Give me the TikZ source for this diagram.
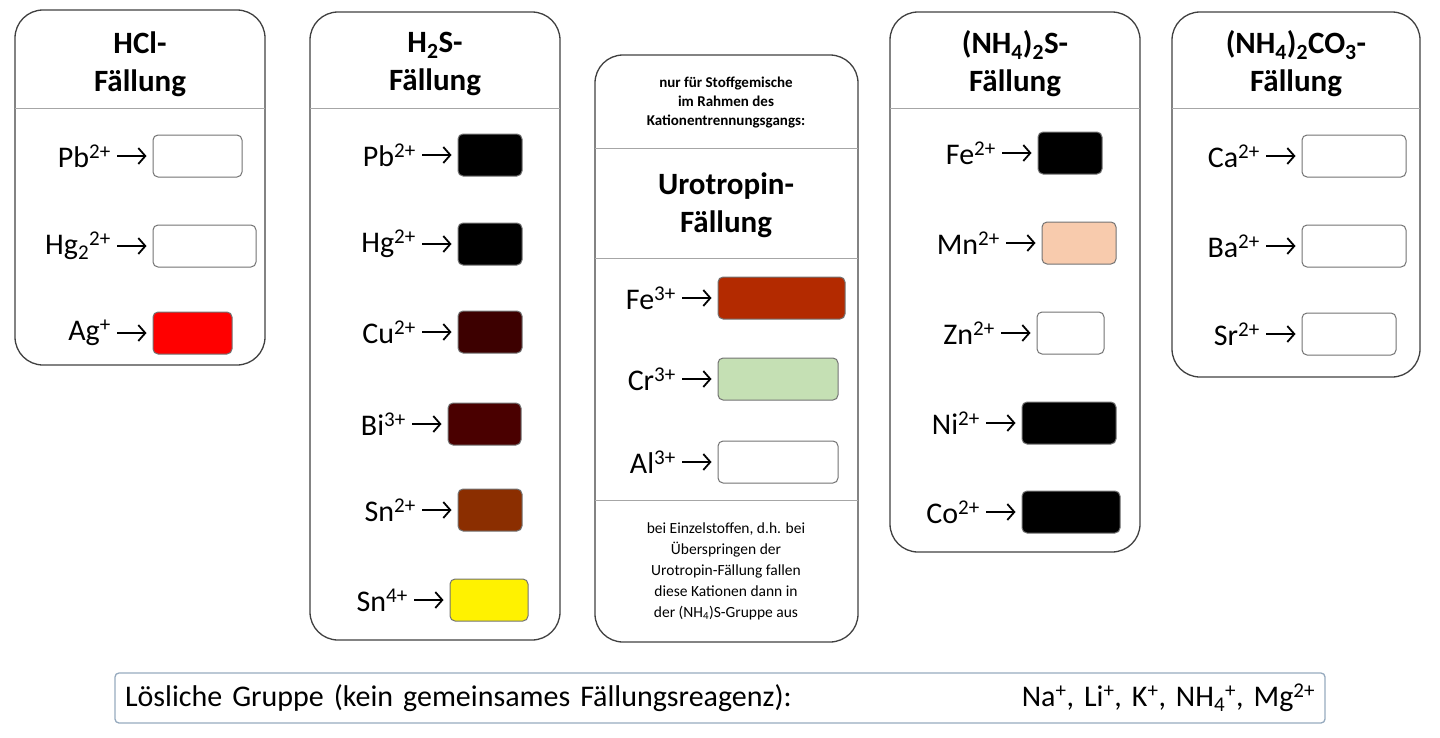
\documentclass[tikz,border=0pt]{standalone}
\usepackage{fontspec}
\setmainfont{Carlito}
\usetikzlibrary{arrows.meta}
\begin{document}
\begin{tikzpicture}[x=1pt,y=-1pt,
 panel/.style={draw=black!75,line width=1.3pt,rounded corners=28pt},
 sw/.style={draw=black!55,line width=1pt,rounded corners=5pt,minimum height=42pt,inner sep=0},
 ion/.style={anchor=east,font=\fontsize{30}{34}\selectfont,inner sep=0},
 ttl/.style={font=\bfseries\fontsize{31}{38}\selectfont,align=center},
 arr/.style={-{Straight Barb[length=7pt,width=16pt]},line width=1.8pt},
 sep/.style={draw=black!35,line width=1pt}]
\useasboundingbox (0,0) rectangle (1440,737);
% panels
\draw[panel] (15,10) rectangle (265,365); \draw[sep] (15,108)--(265,108);
\draw[panel] (310,12) rectangle (560,640); \draw[sep] (310,108)--(560,108);
\draw[panel] (595,55) rectangle (858,642); \draw[sep] (595,148)--(858,148);
\draw[sep] (595,258)--(858,258); \draw[sep] (595,500)--(858,500);
\draw[panel] (890,12) rectangle (1140,552); \draw[sep] (890,108)--(1140,108);
\draw[panel] (1172,12) rectangle (1420,377); \draw[sep] (1172,108)--(1420,108);
% titles
\node[ttl] (t1) at (140,64) {HCl-\\Fällung};
\node[ttl] (t2) at (435,64) {H\textsubscript{2}S-\\Fällung};
\node[ttl] (t4) at (1015,64) {(NH\textsubscript{4})\textsubscript{2}S-\\Fällung};
\node[ttl] (t5) at (1296,64) {(NH\textsubscript{4})\textsubscript{2}CO\textsubscript{3}-\\Fällung};
\node[font=\bfseries\fontsize{15}{19}\selectfont,align=center] (t3a) at (726,102) {nur für Stoffgemische\\im Rahmen des\\Kationentrennungsgangs:};
\node[ttl] (t3) at (726,205) {Urotropin-\\Fällung};
\node[font=\fontsize{15.5}{21}\selectfont,align=center] (t3b) at (726,571) {bei Einzelstoffen, d.h. bei\\Überspringen der\\Urotropin-Fällung fallen\\diese Kationen dann in\\der (NH\textsubscript{4})S-Gruppe aus};
\foreach \n/\y/\xa/\xb/\c/\l in {
 a1/156/153/242/white/{Pb\textsuperscript{2+}},
 a2/246/153/256/white/{Hg\textsubscript{2}\textsuperscript{2+}},
 a3/333/153/232/red/{Ag\textsuperscript{+}},
 b1/155/458/522/black/{Pb\textsuperscript{2+}},
 b2/244/458/522/black/{Hg\textsuperscript{2+}},
 b3/332/458/522/{rgb,255:red,61;green,0;blue,0}/{Cu\textsuperscript{2+}},
 b4/424/448/521/{rgb,255:red,74;green,0;blue,0}/{Bi\textsuperscript{3+}},
 b5/510/458/522/{rgb,255:red,139;green,46;blue,0}/{Sn\textsuperscript{2+}},
 b6/600/450/528/yellow/{Sn\textsuperscript{4+}},
 c1/298/718/845/{rgb,255:red,179;green,42;blue,0}/{Fe\textsuperscript{3+}},
 c2/379/718/838/{rgb,255:red,197;green,224;blue,180}/{Cr\textsuperscript{3+}},
 c3/462/718/838/white/{Al\textsuperscript{3+}},
 d1/153/1038/1102/black/{Fe\textsuperscript{2+}},
 d2/243/1042/1116/{rgb,255:red,248;green,203;blue,173}/{Mn\textsuperscript{2+}},
 d3/333/1037/1104/white/{Zn\textsuperscript{2+}},
 d4/423/1022/1116/black/{Ni\textsuperscript{2+}},
 d5/512/1022/1120/black/{Co\textsuperscript{2+}},
 e1/156/1302/1406/white/{Ca\textsuperscript{2+}},
 e2/246/1302/1406/white/{Ba\textsuperscript{2+}},
 e3/334/1302/1396/white/{Sr\textsuperscript{2+}}}{
 \node[sw,fill=\c,minimum width=\xb-\xa] (s\n) at ({(\xa+\xb)/2},\y) {};
 \node[ion] (l\n) at (\xa-42,\y) {\l};
 \coordinate (q\n) at (\xa-36,\y);
 \draw[arr] (q\n) -- ([xshift=-6pt]s\n.west);
}
% bottom
\node[draw={rgb,255:red,150;green,170;blue,190},line width=1.3pt,rounded corners=4pt,minimum height=50pt,inner xsep=10pt,text width=1190pt,font=\fontsize{30}{34}\selectfont] (bot) at (720,698)
 {Lösliche Gruppe (kein gemeinsames Fällungsreagenz):\hfill Na\textsuperscript{+}, Li\textsuperscript{+}, K\textsuperscript{+}, NH\textsubscript{4}\textsuperscript{+}, Mg\textsuperscript{2+}};
\end{tikzpicture}
\end{document}
